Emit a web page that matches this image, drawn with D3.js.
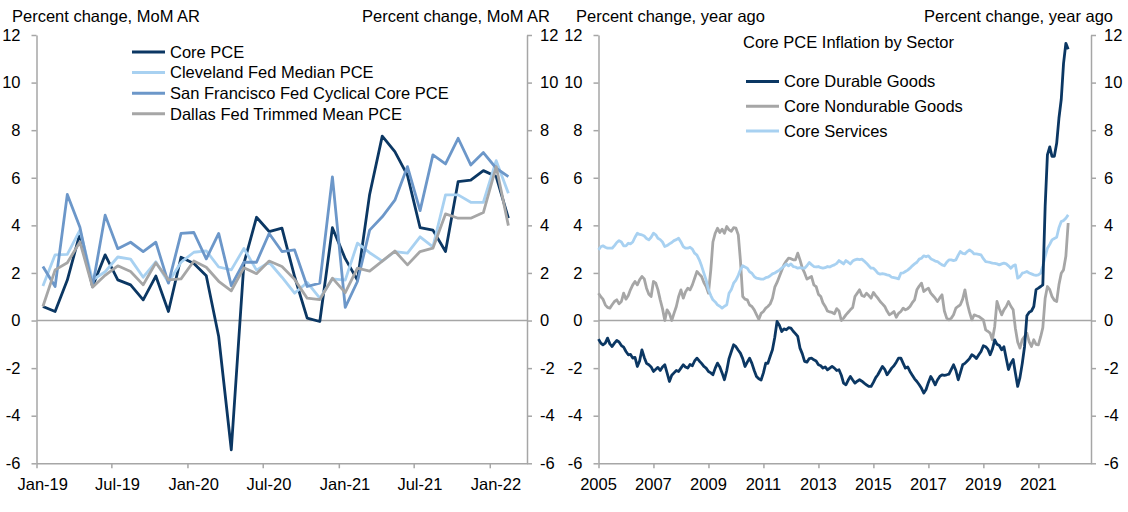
<!DOCTYPE html>
<html>
<head>
<meta charset="utf-8">
<script src="https://d3js.org/d3.v7.min.js"></script>
<style>
    body { margin: 0; background: #ffffff; }
    svg text { font-family: "Liberation Sans", Arial, sans-serif; font-size: 16.5px; fill: #000000; }
</style>
</head>
<body>
<svg id="chart" width="1128" height="512"></svg>
<script>
/**
 *  Core PCE: two panels, monthly data
 */

// left panel, percent change MoM AR, Jan-19 .. Feb-22
var momFirst = new Date(2019, 0, 1);
var momTickLabels = ['Jan-19', 'Jul-19', 'Jan-20', 'Jul-20', 'Jan-21', 'Jul-21', 'Jan-22'];
var corePce = [0.59, 0.38, 1.7, 3.66, 1.43, 2.76, 1.71, 1.5, 0.87, 1.87, 0.38, 2.66,
    2.4, 1.88, -0.67, -5.43, 2.4, 4.34, 3.74, 3.88, 1.85, 0.1, -0.04, 3.9,
    2.6, 1.7, 5.3, 7.75, 7.1, 6.1, 3.9, 3.8, 2.9, 5.84, 5.9, 6.3, 6.05, 4.3];
var clevelandMedian = [1.45, 2.76, 2.78, 3.8, 1.7, 2.05, 2.67, 2.58, 1.82, 2.47, 1.6, 2.45,
    2.87, 2.93, 2.25, 2.13, 3.03, 2.12, 2.45, 1.82, 1.15, 1.6, 0.94, 1.75,
    1.7, 3.25, 2.85, 2.5, 2.9, 2.83, 3.52, 3.1, 5.28, 5.28, 4.97, 4.97, 6.72, 5.35];
var sfCyclical = [2.27, 1.43, 5.3, 3.92, 1.43, 4.43, 3.02, 3.29, 2.9, 3.29, 1.57, 3.66,
    3.7, 2.59, 3.66, 1.47, 2.45, 2.45, 3.66, 2.9, 2.97, 1.43, 1.57, 6.04,
    0.55, 1.64, 3.8, 4.36, 5.06, 6.47, 4.62, 6.96, 6.58, 7.66, 6.54, 7.06, 6.4, 6.05];
var dallasTrimmed = [0.59, 2.13, 2.43, 3.3, 1.4, 1.9, 2.3, 2.06, 1.5, 2.43, 1.71, 1.75,
    2.5, 2.24, 1.65, 1.25, 2.22, 1.97, 2.5, 2.27, 1.73, 0.94, 0.88, 1.78,
    1.17, 2.2, 2.08, 2.5, 2.92, 2.34, 2.9, 3.04, 4.48, 4.3, 4.3, 4.54, 6.47, 3.99];

// right panel, percent change year ago, Jan 2005 .. Feb 2022
var yoyFirst = new Date(2005, 0, 1);
var yoyTickLabels = ['2005', '2007', '2009', '2011', '2013', '2015', '2017', '2019', '2021'];
var durableGoods = [
    -0.78, -0.95, -1.02, -0.95, -0.74, -0.98, -1.09, -0.95, -0.84, -0.9, -1.05, -1.12,
    -1.3, -1.44, -1.42, -1.58, -1.55, -1.93, -1.7, -1.23, -1.55, -1.8, -1.86, -1.95,
    -2.14, -2.05, -1.97, -2.1, -1.95, -1.86, -2.2, -2.56, -2.3, -2.2, -2.1, -2.14,
    -2.0, -1.86, -1.95, -2.0, -1.85, -1.9, -1.7, -1.58, -1.7, -1.8, -1.93, -2.0,
    -2.14, -2.2, -2.28, -2.0, -1.79, -1.95, -2.2, -2.49, -2.1, -1.6, -1.3, -1.02,
    -1.1, -1.25, -1.37, -1.6, -1.93, -1.75, -1.58, -1.8, -2.1, -2.35, -2.45, -2.5,
    -2.2, -1.79, -1.8, -1.5, -1.23, -0.7, -0.04, -0.2, -0.46, -0.35, -0.39, -0.3,
    -0.32, -0.45, -0.55, -0.67, -1.16, -1.4, -1.72, -1.75, -1.6, -1.58, -1.65, -1.7,
    -1.86, -1.9, -2.0, -1.95, -2.07, -2.0, -1.93, -2.0, -2.1, -2.07, -2.3, -2.63,
    -2.7, -2.5, -2.35, -2.5, -2.63, -2.55, -2.49, -2.55, -2.63, -2.7, -2.77, -2.77,
    -2.6, -2.4, -2.28, -2.1, -1.93, -2.05, -2.28, -2.15, -2.0, -1.9, -1.75, -1.58,
    -1.58, -1.8, -2.0, -1.95, -2.14, -2.3, -2.45, -2.56, -2.7, -2.85, -3.05, -2.9,
    -2.6, -2.35, -2.5, -2.7, -2.5, -2.35, -2.28, -2.3, -2.28, -2.25, -2.05, -1.86,
    -2.1, -2.49, -2.2, -1.86, -1.8, -1.7, -1.6, -1.44, -1.5, -1.6, -1.44, -1.3,
    -1.06, -1.1, -1.2, -1.44, -1.2, -0.81, -1.0, -1.05, -1.23, -1.1, -1.6, -2.06,
    -1.8, -1.64, -2.2, -2.77, -2.4, -1.8, -1.1, 0.2, 0.35, 0.4, 0.59, 1.3,
    1.36, 1.43, 1.5, 4.8, 6.96, 7.3, 6.9, 6.9, 7.45, 8.5, 9.3, 10.8,
    11.65, 11.4];
var nondurableGoods = [
    1.15, 1.0, 0.9, 0.66, 0.55, 0.52, 0.66, 0.8, 0.87, 0.7, 0.8, 1.15,
    0.9, 1.05, 1.29, 1.5, 1.64, 1.5, 1.71, 1.85, 1.75, 1.36, 1.1, 1.01,
    1.64, 1.57, 1.3, 0.87, 0.5, 0.0, 0.45, 0.3, 0.0, 0.3, 0.59, 1.0,
    1.29, 0.94, 1.2, 1.36, 1.29, 1.5, 1.78, 2.06, 1.95, 1.85, 1.6, 1.43,
    1.15, 2.13, 3.3, 3.67, 3.88, 3.7, 3.84, 3.67, 3.95, 3.81, 3.75, 3.9,
    3.88, 3.6, 2.55, 1.01, 0.9, 0.87, 0.65, 0.59, 0.45, 0.25, 0.05, 0.3,
    0.38, 0.52, 0.59, 0.7, 0.94, 1.4, 1.6, 1.85, 2.1, 2.34, 2.5, 2.62,
    2.6, 2.55, 2.55, 2.83, 2.55, 2.2, 2.0, 1.74, 1.8, 1.85, 1.5, 1.43,
    1.1, 1.01, 0.75, 0.59, 0.4, 0.36, 0.34, 0.28, 0.5, 0.4, 0.0, 0.1,
    0.24, 0.35, 0.45, 0.55, 1.01, 1.15, 1.29, 1.05, 1.01, 1.15, 1.05, 0.94,
    1.18, 1.05, 0.94, 0.8, 0.7, 0.59, 0.4, 0.24, 0.3, 0.38, 0.14, 0.3,
    0.38, 0.52, 0.45, 0.5, 0.59, 0.75, 0.87, 1.29, 1.45, 1.57, 1.22, 1.3,
    1.36, 1.15, 1.05, 0.94, 0.8, 0.95, 1.08, 0.4, 0.1, 0.03, 0.1, 0.24,
    0.52, 0.6, 0.66, 0.9, 1.29, 0.73, 0.35, 0.03, 0.24, 0.2, 0.17, 0.1,
    0.03, -0.39, -0.45, -0.53, -0.81, -0.25, 0.8, 0.5, 0.24, 0.45, 0.59, 0.8,
    0.6, 0.45, -0.32, -0.9, -1.16, -0.8, -0.67, -0.53, -0.9, -1.09, -0.81, -1.0,
    -1.02, -0.67, -0.3, 0.94, 1.43, 1.3, 1.01, 0.85, 0.8, 1.5, 1.99, 2.13,
    2.7, 4.1];
var coreServices = [
    2.97, 3.1, 3.14, 3.08, 3.04, 3.04, 3.04, 3.15, 3.28, 3.36, 3.3, 3.14,
    3.14, 3.25, 3.22, 3.3, 3.5, 3.67, 3.62, 3.6, 3.55, 3.45, 3.39, 3.5,
    3.67, 3.6, 3.46, 3.4, 3.3, 3.11, 3.15, 3.22, 3.28, 3.36, 3.4, 3.46,
    3.3, 3.11, 3.04, 3.04, 3.08, 3.0, 2.83, 2.75, 2.55, 2.3, 1.99, 1.7,
    1.29, 1.05, 0.87, 0.78, 0.66, 0.6, 0.52, 0.6, 0.66, 1.15, 1.3, 1.57,
    1.7, 1.9, 2.13, 2.3, 2.25, 2.2, 2.05, 1.99, 1.85, 1.78, 1.76, 1.74,
    1.74, 1.8, 1.82, 1.88, 1.96, 2.0, 2.06, 2.12, 2.2, 2.28, 2.38, 2.3,
    2.38, 2.27, 2.25, 2.2, 2.22, 2.2, 2.2, 2.3, 2.44, 2.35, 2.27, 2.25,
    2.27, 2.22, 2.2, 2.22, 2.27, 2.25, 2.3, 2.34, 2.4, 2.52, 2.45, 2.38,
    2.52, 2.45, 2.38, 2.5, 2.55, 2.58, 2.56, 2.58, 2.5, 2.41, 2.3, 2.2,
    2.2, 2.1, 1.99, 1.95, 1.97, 1.95, 1.92, 1.9, 1.82, 1.8, 1.78, 1.75,
    1.99, 2.0, 2.06, 2.12, 2.2, 2.3, 2.38, 2.45, 2.58, 2.62, 2.72, 2.68,
    2.72, 2.6, 2.55, 2.5, 2.48, 2.4, 2.34, 2.3, 2.45, 2.55, 2.55, 2.52,
    2.55, 2.75, 2.9, 2.82, 2.8, 2.9, 2.97, 2.9, 2.8, 2.8, 2.78, 2.76,
    2.6, 2.48, 2.46, 2.44, 2.41, 2.4, 2.38, 2.34, 2.38, 2.41, 2.38, 2.3,
    2.2, 2.3, 2.34, 1.78, 1.85, 1.99, 2.02, 2.06, 2.0, 1.96, 1.92, 1.9,
    1.92, 1.99, 2.3, 2.69, 3.04, 3.2, 3.39, 3.45, 3.5, 3.9, 4.16, 4.2,
    4.3, 4.44];

var yTicks = [12, 10, 8, 6, 4, 2, 0, -2, -4, -6];

var navy = '#0b3763', lightBlue = '#a8d1f1', midBlue = '#6c97c9', grey = '#a6a6a6';
var axisColor = '#a6a6a6';

var svg = d3.select('#chart');
svg.append('rect').attr('width', 1128).attr('height', 512).attr('fill', '#ffffff');

var top_y = 35, bottom_y = 463.3;

function monthSeries(first, values, mid) {
    return values.map(function (v, i) {
        var d0 = d3.timeMonth.offset(first, i);
        var d = d0;
        if (mid) {
            var d1 = d3.timeMonth.offset(first, i + 1);
            d = new Date((d0.getTime() + d1.getTime()) / 2);
        }
        return { x: d, y: v };
    });
}

function plainNumber(d) {
    return String(d);   // keep a hyphen minus, like the original
}

function drawPanel(p) {
    var scale_x = d3.scaleTime().domain(p.domain).range([p.left, p.right]);
    var scale_y = d3.scaleLinear().domain([-6, 12]).range([bottom_y, top_y]);
    var g = svg.append('g');

    // zero line
    g.append('line')
        .attr('x1', p.left).attr('x2', p.right)
        .attr('y1', scale_y(0)).attr('y2', scale_y(0))
        .attr('stroke', axisColor).attr('stroke-width', 1.6);

    var yLeft = d3.axisLeft(scale_y).tickValues(yTicks).tickSize(5).tickSizeOuter(0).tickPadding(11).tickFormat(plainNumber);
    var yRight = d3.axisRight(scale_y).tickValues(yTicks).tickSize(5).tickSizeOuter(0).tickPadding(8).tickFormat(plainNumber);
    var xBottom = d3.axisBottom(scale_x).tickValues(p.tickDates).tickSize(5).tickSizeOuter(0).tickFormat('');

    g.append('g').attr('transform', 'translate(' + p.left + ',0)').call(yLeft);
    g.append('g').attr('transform', 'translate(' + p.right + ',0)').call(yRight);
    g.append('g').attr('transform', 'translate(0,' + bottom_y + ')').call(xBottom);

    g.selectAll('.domain, .tick line').attr('stroke', axisColor).attr('stroke-width', 1.5);
    g.selectAll('.tick text').attr('font-size', null).attr('fill', '#000');

    // x labels
    g.selectAll('text.xlab')
        .data(p.tickLabels).enter().append('text')
        .attr('class', 'xlab')
        .attr('x', function (d, i) { return scale_x(p.labelDates[i]); })
        .attr('y', 490)
        .attr('text-anchor', 'middle')
        .text(function (d) { return d; });

    // unit titles
    g.append('text').attr('x', p.titleLeft).attr('y', 22).text(p.unit);
    g.append('text').attr('x', p.titleRight).attr('y', 22).attr('text-anchor', 'end').text(p.unit);

    var line = d3.line()
        .x(function (d) { return scale_x(d.x); })
        .y(function (d) { return scale_y(d.y); });

    p.drawOrder.forEach(function (k) {
        var s = p.series[k];
        g.append('path')
            .attr('d', line(s.data))
            .attr('fill', 'none')
            .attr('stroke', s.color)
            .attr('stroke-width', 2.8)
            .attr('stroke-linejoin', 'round');
    });

    // legend
    if (p.heading) {
        g.append('text').attr('x', p.heading.x).attr('y', p.heading.y).text(p.heading.text);
    }
    p.series.forEach(function (s, i) {
        var ly = p.legend.y + i * p.legend.step;
        g.append('line')
            .attr('x1', p.legend.x).attr('x2', p.legend.x + 33)
            .attr('y1', ly).attr('y2', ly)
            .attr('stroke', s.color).attr('stroke-width', 3);
        g.append('text')
            .attr('x', p.legend.x + 38).attr('y', ly)
            .attr('dy', '0.35em')
            .text(s.name);
    });
}

// left panel
var momTickDates = momTickLabels.map(function (d, i) { return d3.timeMonth.offset(momFirst, i * 6); });
var momLabelDates = momTickDates.map(function (d) { return d3.timeDay.offset(d, 15); });
drawPanel({
    left: 36.5, right: 527,
    domain: [momFirst, new Date(2022, 3, 1)],
    tickDates: momTickDates,
    labelDates: momLabelDates,
    tickLabels: momTickLabels,
    unit: 'Percent change, MoM  AR',
    titleLeft: 12, titleRight: 550,
    legend: { x: 132, y: 52, step: 20.6 },
    drawOrder: [0, 1, 2, 3],
    series: [
        { name: 'Core PCE', color: navy, data: monthSeries(momFirst, corePce, true) },
        { name: 'Cleveland Fed Median PCE', color: lightBlue, data: monthSeries(momFirst, clevelandMedian, true) },
        { name: 'San Francisco Fed Cyclical Core PCE', color: midBlue, data: monthSeries(momFirst, sfCyclical, true) },
        { name: 'Dallas Fed Trimmed Mean PCE', color: grey, data: monthSeries(momFirst, dallasTrimmed, true) }
    ]
});

// right panel
var yoyTickDates = yoyTickLabels.map(function (d) { return new Date(+d, 0, 1); });
drawPanel({
    left: 598.5, right: 1091,
    domain: [yoyFirst, new Date(2022, 11, 1)],
    tickDates: yoyTickDates,
    labelDates: yoyTickDates,
    tickLabels: yoyTickLabels,
    unit: 'Percent change, year ago',
    titleLeft: 576, titleRight: 1113,
    heading: { x: 743, y: 48, text: 'Core PCE Inflation by Sector' },
    legend: { x: 746, y: 81.5, step: 24.8 },
    drawOrder: [1, 2, 0],
    series: [
        { name: 'Core Durable Goods', color: navy, data: monthSeries(yoyFirst, durableGoods, false) },
        { name: 'Core Nondurable Goods', color: grey, data: monthSeries(yoyFirst, nondurableGoods, false) },
        { name: 'Core Services', color: lightBlue, data: monthSeries(yoyFirst, coreServices, false) }
    ]
});
</script>
</body>
</html>
